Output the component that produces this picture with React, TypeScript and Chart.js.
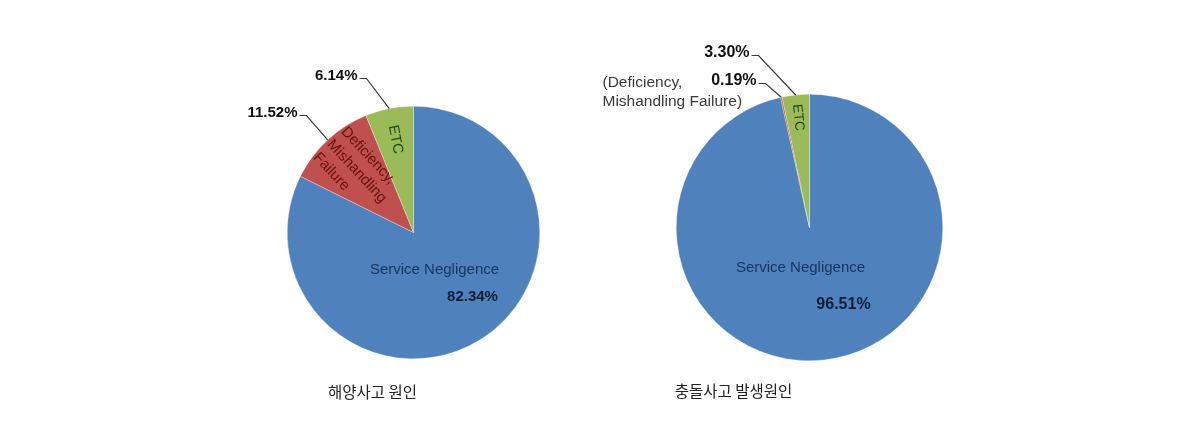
import React, { useEffect, useRef } from "react";
import { Chart, registerables } from "chart.js";

Chart.register(...registerables);

const categories = ["Service Negligence", "Deficiency, Mishandling Failure", "ETC"];
const marineValues = [82.34, 11.52, 6.14];
const collisionValues = [96.51, 0.19, 3.3];
const marineTitle = "해양사고 원인";
const collisionTitle = "충돌사고 발생원인";
const sliceColors = ["#4F81BD", "#C0504D", "#9BBB59"];
const deficiencyLines = ["Deficiency,", "Mishandling", "Failure"];
const deficiencyOutsideLines = ["(Deficiency,", "Mishandling Failure)"];
const etcLines = ["ETC"];

const FONT = "'Liberation Sans', Arial, sans-serif";
const KFONT = "'Noto Sans CJK KR', sans-serif";

type Inside = { index: number; frac: number; lines: string[]; color: string; size: number; lineH: number };
type Outside = { index: number; right: number; dy: number };
type Extra = { lines: string[]; left: number; dy: number; lineH: number; size: number; color: string };
type Spec = {
  padding: { left: number; right: number; top: number; bottom: number };
  title: string;
  titleDx: number;
  titleDy: number;
  sn: { dx: number; dy: number; size: number };
  snPct: { dx: number; dy: number; size: number };
  inside: Inside[];
  outside: Outside[];
  pctSize: number;
  extra: Extra[];
};

const fmt = (v: number) => `${v.toFixed(2)}%`;

function makePlugin(spec: Spec) {
  return {
    id: "pieLabels",
    afterDatasetsDraw(chart: any) {
      const ctx: CanvasRenderingContext2D = chart.ctx;
      const meta = chart.getDatasetMeta(0);
      const values = chart.data.datasets[0].data as number[];
      const labels = chart.data.labels as string[];
      const a0 = meta.data[0] as any;
      const cx = a0.x;
      const cy = a0.y;
      const R = a0.outerRadius;
      const mid = (i: number) => {
        const a = meta.data[i] as any;
        return (a.startAngle + a.endAngle) / 2;
      };
      ctx.save();
      ctx.textBaseline = "middle";

      // main slice label
      ctx.fillStyle = "#17365D";
      ctx.font = `${spec.sn.size}px ${FONT}`;
      ctx.textAlign = "center";
      ctx.fillText(labels[0], cx + spec.sn.dx, cy + spec.sn.dy);
      ctx.font = `bold ${spec.snPct.size}px ${FONT}`;
      ctx.fillStyle = "#0F1F35";
      ctx.fillText(fmt(values[0]), cx + spec.snPct.dx, cy + spec.snPct.dy);

      // rotated labels inside slices
      for (const ins of spec.inside) {
        const m = mid(ins.index);
        const px = cx + Math.cos(m) * R * ins.frac;
        const py = cy + Math.sin(m) * R * ins.frac;
        ctx.save();
        ctx.translate(px, py);
        ctx.rotate(m + Math.PI);
        ctx.font = `${ins.size}px ${FONT}`;
        ctx.fillStyle = ins.color;
        ctx.textAlign = "left";
        const w = Math.max(...ins.lines.map((l) => ctx.measureText(l).width));
        ins.lines.forEach((l, k) => {
          const y = (k - (ins.lines.length - 1) / 2) * ins.lineH;
          ctx.fillText(l, -w / 2, y);
        });
        ctx.restore();
      }

      // outside percent labels with leader lines
      for (const o of spec.outside) {
        const m = mid(o.index);
        ctx.font = `bold ${spec.pctSize}px ${FONT}`;
        ctx.fillStyle = "#111111";
        ctx.textAlign = "right";
        const tx = cx + o.right;
        const ty = cy + o.dy;
        ctx.fillText(fmt(values[o.index]), tx, ty);
        const ex = cx + Math.cos(m) * R;
        const ey = cy + Math.sin(m) * R;
        ctx.strokeStyle = "#3A3A3A";
        ctx.lineWidth = 1.2;
        ctx.beginPath();
        ctx.moveTo(tx + 2, ty + 3);
        ctx.lineTo(tx + 9, ty + 3);
        ctx.lineTo(ex, ey);
        ctx.stroke();
      }

      for (const e of spec.extra) {
        ctx.font = `${e.size}px ${FONT}`;
        ctx.fillStyle = e.color;
        ctx.textAlign = "left";
        e.lines.forEach((l, k) => ctx.fillText(l, cx + e.left, cy + e.dy + k * e.lineH));
      }

      // title
      ctx.font = `15.5px ${KFONT}`;
      ctx.fillStyle = "#222222";
      ctx.textAlign = "center";
      ctx.fillText(spec.title, cx + spec.titleDx, cy + spec.titleDy);
      ctx.restore();
    },
  };
}

const marineSpec: Spec = {
  padding: { left: 287, right: 55, top: 106, bottom: 74 },
  title: marineTitle,
  titleDx: -41,
  titleDy: 160,
  sn: { dx: 21, dy: 37, size: 15 },
  snPct: { dx: 59, dy: 64, size: 15 },
  inside: [
    { index: 2, frac: 0.75, lines: etcLines, color: "#1E4A12", size: 14.5, lineH: 16 },
    { index: 1, frac: 0.66, lines: deficiencyLines, color: "#6A1010", size: 15, lineH: 19 },
  ],
  outside: [
    { index: 2, right: -56, dy: -157 },
    { index: 1, right: -116, dy: -120 },
  ],
  pctSize: 15,
  extra: [],
};

const collisionSpec: Spec = {
  padding: { left: 81, right: 247, top: 94, bottom: 72 },
  title: collisionTitle,
  titleDx: -76,
  titleDy: 164,
  sn: { dx: -9, dy: 40, size: 15 },
  snPct: { dx: 34, dy: 77, size: 16 },
  inside: [{ index: 2, frac: 0.83, lines: etcLines, color: "#1E4A12", size: 13.5, lineH: 16 }],
  outside: [
    { index: 2, right: -60, dy: -175 },
    { index: 1, right: -53, dy: -147 },
  ],
  pctSize: 16,
  extra: [
    { lines: deficiencyOutsideLines, left: -207, dy: -145, lineH: 19, size: 15.5, color: "#3A3A3A" },
  ],
};

function PieChart({ values, spec, left }: { values: number[]; spec: Spec; left: number }) {
  const ref = useRef<HTMLCanvasElement>(null);
  useEffect(() => {
    const chart = new Chart(ref.current!, {
      type: "pie",
      data: {
        labels: categories,
        datasets: [
          {
            data: values,
            backgroundColor: sliceColors,
            borderColor: "rgba(255,255,255,0.6)",
            borderWidth: 0.5,
          },
        ],
      },
      options: {
        responsive: false,
        animation: false,
        layout: { padding: spec.padding },
        plugins: { legend: { display: false }, tooltip: { enabled: false } },
      },
      plugins: [makePlugin(spec)],
    } as any);
    return () => chart.destroy();
  }, []);
  return (
    <canvas
      ref={ref}
      width={595}
      height={433}
      style={{ position: "absolute", left, top: 0, width: 595, height: 433 }}
    />
  );
}

export default function App() {
  return (
    <div style={{ position: "absolute", left: 0, top: 0, width: 1190, height: 433, background: "#ffffff" }}>
      <PieChart values={marineValues} spec={marineSpec} left={0} />
      <PieChart values={collisionValues} spec={collisionSpec} left={595} />
    </div>
  );
}
